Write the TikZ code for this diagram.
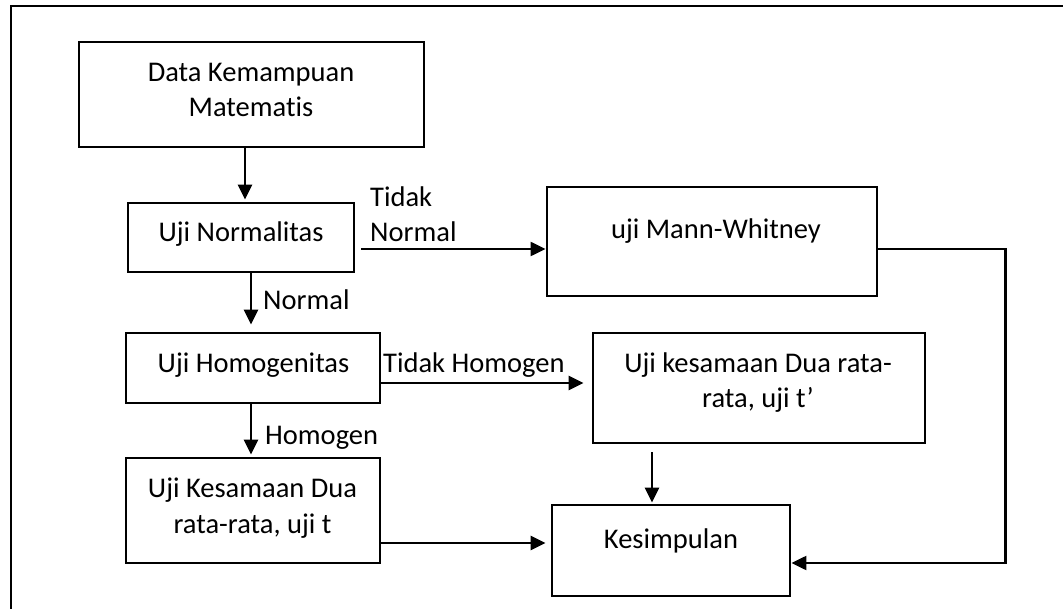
\documentclass[tikz,border=0pt]{standalone}
\usepackage{fontspec}
\setmainfont{Carlito}[Ligatures=NoCommon]
\usetikzlibrary{arrows.meta,calc}
\begin{document}
\begin{tikzpicture}[x=1pt,y=-1pt,
  box/.style={draw=black,line width=2.8pt,rectangle,inner sep=0pt},
  txt/.style={inner sep=0pt,font=\fontsize{28.5}{35.5}\selectfont,align=center},
  lbl/.style={inner sep=0pt,font=\fontsize{28.5}{35.5}\selectfont,align=left},
  arr/.style={line width=2.6pt,-{Triangle[length=15pt,width=14pt]}},
  thinarr/.style={line width=2.2pt,-{Triangle[length=15pt,width=14pt]}}]
\useasboundingbox (0,0) rectangle (1063,609);
% frame
\draw[line width=2.8pt] (11,609) -- (11,6) -- (1063,6);
% boxes
\node[box,minimum width=345pt,minimum height=105pt] (data) at (251.5,94.5) {};
\node[box,minimum width=226pt,minimum height=69pt] (norm) at (241,237.5) {};
\node[box,minimum width=330pt,minimum height=109pt] (mw) at (712,241.5) {};
\node[box,minimum width=254pt,minimum height=70pt] (homo) at (253,368) {};
\node[box,minimum width=332pt,minimum height=110pt] (tp) at (759,388) {};
\node[box,minimum width=254pt,minimum height=105pt] (ut) at (253,510.5) {};
\node[box,minimum width=238pt,minimum height=91pt] (kes) at (671,550.5) {};
% texts (base = last line baseline)
\node[txt,anchor=base] (datat) at (251,117) {Data Kemampuan\\Matematis};
\node[txt,anchor=base] (normt) at (241,242) {Uji Normalitas};
\node[txt,anchor=base] (mwt) at (716,239) {uji Mann-Whitney};
\node[txt,anchor=base] (homot) at (253.5,373) {Uji Homogenitas};
\node[txt,anchor=base] (tpt) at (758,408) {Uji kesamaan Dua rata-\\rata, uji t’};
\node[txt,anchor=base] (utt) at (252.5,533) {Uji Kesamaan Dua\\rata-rata, uji t};
\node[txt,anchor=base] (kest) at (671,548) {Kesimpulan};
% labels
\node[lbl,anchor=base west] (ltn) at (370,242) {Tidak\\Normal};
\node[lbl,anchor=base west] (ln) at (263,310) {Normal};
\node[lbl,anchor=base west] (lth) at (383,373) {Tidak Homogen};
\node[lbl,anchor=base west] (lh) at (265,444) {Homogen};
% connectors
\coordinate (d1) at ($(data.south)+(-6.5,0)$);
\draw[arr] (d1) -- ($(d1 |- norm.north)+(0,-2)$);
\coordinate (n2) at ($(norm.south)+(10,0)$);
\draw[arr] (n2) -- ($(n2 |- homo.north)+(0,-7)$);
\coordinate (h2) at ($(homo.south)+(-2,0)$);
\draw[arr] (h2) -- ($(h2 |- ut.north)+(0,-2)$);
\coordinate (n1) at ($(norm.east)+(6,11.5)$);
\draw[thinarr] (n1) -- (n1 -| mw.west);
\coordinate (h1) at ($(homo.east)+(0,15)$);
\draw[arr] (h1) -- ($(h1 -| tp.west)+(-8,0)$);
\coordinate (u1) at ($(ut.east)+(0,32.5)$);
\draw[arr] (u1) -- ($(u1 -| kes.west)+(-5,0)$);
\coordinate (t1) at ($(tp.south)+(-107,8)$);
\draw[arr] (t1) -- ($(t1 |- kes.north)+(0,-1)$);
\coordinate (m1) at ($(mw.east)+(0,7.5)$);
\coordinate (k1) at ($(kes.east)+(0,12.5)$);
\draw[thinarr] (m1) -- ++(127,0) |- (k1);
\end{tikzpicture}
\end{document}
